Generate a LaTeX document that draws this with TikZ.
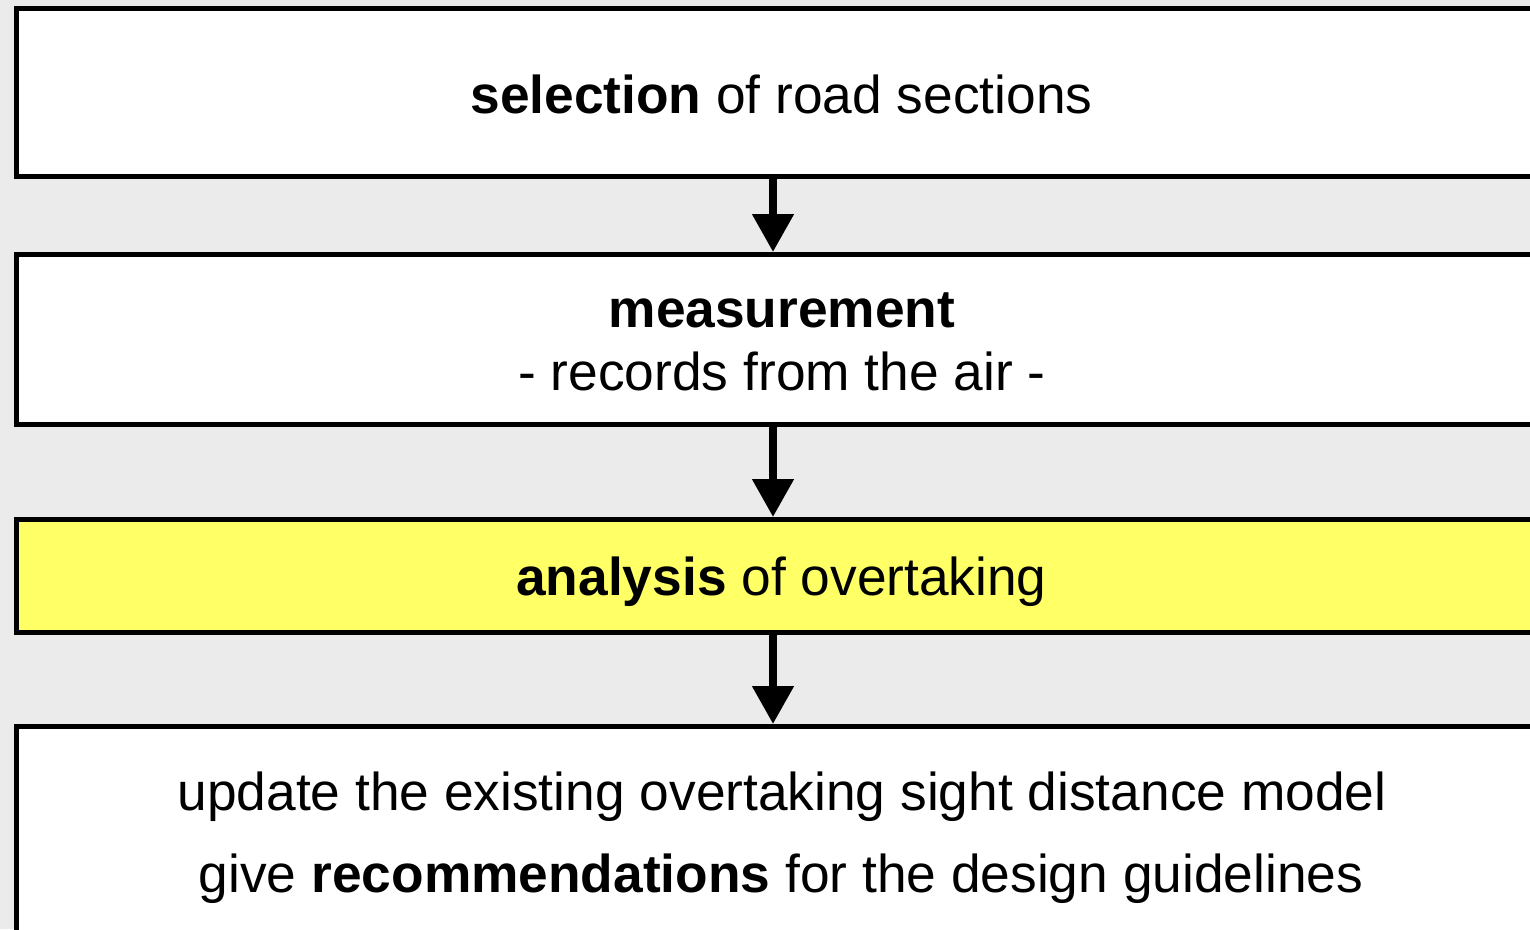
\documentclass[tikz,border=0pt]{standalone}
\usepackage{fontspec}
\setmainfont{Liberation Sans}
\usetikzlibrary{arrows.meta}
\definecolor{bggrey}{HTML}{EBEBEB}
\definecolor{hlyellow}{HTML}{FFFF66}
\tikzset{
  stepbox/.style={draw=black, line width=5pt, fill=white, rectangle,
    minimum width=1529.5pt, inner sep=0pt, outer sep=0pt},
  label text/.style={anchor=base, inner sep=0pt, font=\fontsize{53.3}{55}\selectfont},
  flowarrow/.style={draw=black, line width=8pt,
    -{Triangle[length=38pt,width=40pt]}, shorten >=2.5pt}
}
\begin{document}
\begin{tikzpicture}[x=1pt,y=-1pt]
\useasboundingbox (0,0) rectangle (1530,929);
\clip (0,0) rectangle (1530,929);
\fill[bggrey] (0,0) rectangle (1530,929);

\node[stepbox, minimum height=168pt] (b1) at (781.25,92.5) {};
\node[stepbox, minimum height=170pt] (b2) at (781.25,339.5) {};
\node[stepbox, fill=hlyellow, minimum height=112.5pt] (b3) at (781.25,575.75) {};
\node[stepbox, minimum height=216pt] (b4) at (781.25,834.5) {};

\node[label text] (t1) at (781.5,113) {\textbf{selection} of road sections};
\node[label text] (t2a) at (782,327) {\textbf{measurement}};
\node[label text] (t2b) at (782,390) {- records from the air -};
\node[label text] (t3) at (781.5,595) {\textbf{analysis} of overtaking};
\node[label text] (t4a) at (782,810) {update the existing overtaking sight distance model};
\node[label text] (t4b) at (781,892) {give \textbf{recommendations} for the design guidelines};

\coordinate (ax) at (773,0);
\draw[flowarrow] (b1.south -| ax) -- (b2.north -| ax);
\draw[flowarrow] (b2.south -| ax) -- (b3.north -| ax);
\draw[flowarrow] (b3.south -| ax) -- (b4.north -| ax);
\end{tikzpicture}
\end{document}
